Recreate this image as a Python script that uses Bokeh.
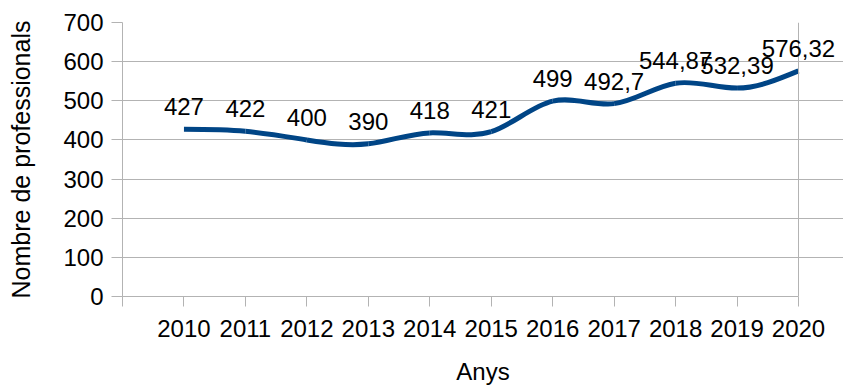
import numpy as np
from bokeh.plotting import figure
from bokeh.models import Range1d, FixedTicker, ColumnDataSource, LabelSet, Span
from bokeh.core.properties import value
from bokeh.embed import file_html
from bokeh.resources import INLINE

# ---- data ----
years = ["2010", "2011", "2012", "2013", "2014", "2015", "2016", "2017", "2018", "2019", "2020"]
professionals = [427, 422, 400, 390, 418, 421, 499, 492.7, 544.87, 532.39, 576.32]
point_labels = ["427", "422", "400", "390", "418", "421", "499", "492,7", "544,87", "532,39", "576,32"]
y_ticks = [0, 100, 200, 300, 400, 500, 600, 700]

FONT = "Liberation Sans"
GRID = "#b3b3b3"
LINE = "#004586"

xs = np.arange(len(years), dtype=float)
ys = np.array(professionals, dtype=float)

# natural cubic spline (uniform spacing) -> bezier segments for a smoothed line rendering
n = len(ys)
A = np.zeros((n, n))
b = np.zeros(n)
A[0, 0] = 1
A[-1, -1] = 1
for i in range(1, n - 1):
    A[i, i - 1] = 1
    A[i, i] = 4
    A[i, i + 1] = 1
    b[i] = 6 * (ys[i + 1] - 2 * ys[i] + ys[i - 1])
M = np.linalg.solve(A, b)
d = np.zeros(n)
for i in range(n - 1):
    d[i] = (ys[i + 1] - ys[i]) - (2 * M[i] + M[i + 1]) / 6
d[-1] = (ys[-1] - ys[-2]) + (M[-2] + 2 * M[-1]) / 6

seg = ColumnDataSource(dict(
    x0=xs[:-1], y0=ys[:-1], x1=xs[1:], y1=ys[1:],
    cx0=xs[:-1] + 1 / 3, cy0=ys[:-1] + d[:-1] / 3,
    cx1=xs[1:] - 1 / 3, cy1=ys[1:] - d[1:] / 3,
))
pts = ColumnDataSource(dict(x=xs, y=ys, t=point_labels))

# plot area: 676 px for the 11 category steps, plus a 45 px right margin kept inside
# the frame so that the last data label is not clipped
FRAME_PLOT = 676
RIGHT_MARGIN = 45
last = len(years) - 1
x_end = last + RIGHT_MARGIN * (last + 1) / FRAME_PLOT

p = figure(width=843, height=388, output_backend="svg", toolbar_location=None,
           x_range=Range1d(-1, x_end), y_range=Range1d(0, 700),
           min_border_left=122, min_border_right=0, min_border_top=22, min_border_bottom=92)
p.background_fill_color = "white"
p.border_fill_color = "white"
p.outline_line_color = None

p.bezier(x0="x0", y0="y0", x1="x1", y1="y1", cx0="cx0", cy0="cy0", cx1="cx1", cy1="cy1",
         source=seg, line_color=LINE, line_width=5)

labels = LabelSet(x="x", y="y", text="t", source=pts, text_font=value(FONT),
                  text_font_size="24px", text_align="center", text_baseline="alphabetic",
                  y_offset=14, text_color="black", level="overlay")
p.add_layout(labels)

p.xgrid.grid_line_color = None
p.ygrid.grid_line_color = GRID
p.ygrid.ticker = FixedTicker(ticks=y_ticks)
p.ygrid.bounds = (-1, last)

# right border of the plot wall
p.add_layout(Span(location=last, dimension="height", line_color=GRID, line_width=1))

xa = p.xaxis[0]
xa.ticker = FixedTicker(ticks=list(range(-1, len(years))))
xa.bounds = (-1, last)
overrides = {-1: ""}
for i, yname in enumerate(years):
    overrides[i] = yname
xa.major_label_overrides = overrides
ya = p.yaxis[0]
ya.ticker = FixedTicker(ticks=y_ticks)

for ax in (xa, ya):
    ax.axis_line_color = GRID
    ax.major_tick_line_color = GRID
    ax.minor_tick_line_color = None
    ax.major_tick_in = 0
    ax.major_label_text_font = FONT
    ax.major_label_text_font_size = "24px"
    ax.major_label_text_color = "black"
    ax.axis_label_text_font = FONT
    ax.axis_label_text_font_style = "normal"
    ax.axis_label_text_color = "black"

xa.major_tick_out = 10
xa.major_label_standoff = 13
xa.axis_label = "Anys"
xa.axis_label_text_font_size = "24px"
xa.axis_label_standoff = 18

ya.major_tick_out = 11
ya.major_label_standoff = 8
ya.axis_label = "Nombre de professionals"
ya.axis_label_text_font_size = "25px"
ya.axis_label_standoff = 25

open("out.html", "w").write(file_html(p, INLINE))
